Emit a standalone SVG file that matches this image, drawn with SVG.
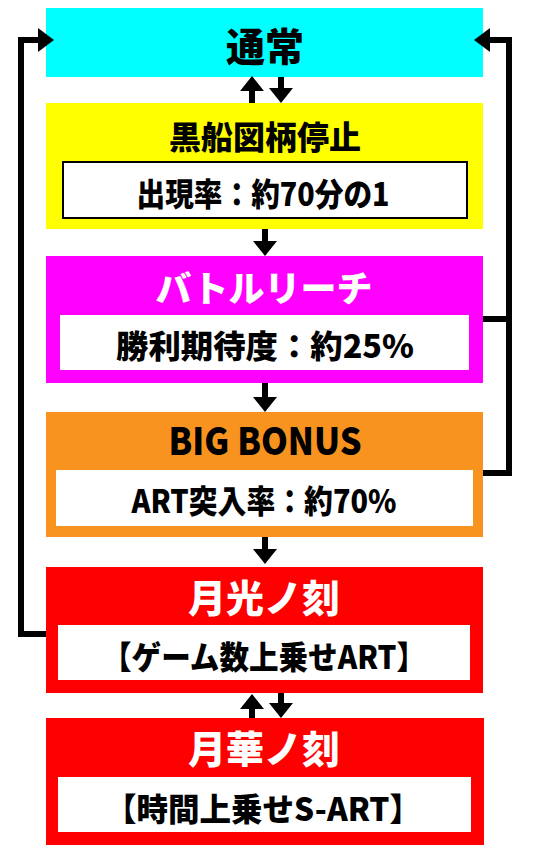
<svg xmlns="http://www.w3.org/2000/svg" width="534" height="853" viewBox="0 0 534 853">
<style>
.t{font-family:"Noto Sans CJK JP","Noto Sans",sans-serif;font-weight:900;text-anchor:middle}
.s{font-size:32px}
.w{fill:#fff}
.k{fill:#000}
.inner{fill:#fff}
.c{fill:none;stroke:#000;stroke-width:6;stroke-linejoin:miter}
</style>
<defs>
<marker id="ah" markerUnits="userSpaceOnUse" markerWidth="15" markerHeight="24" viewBox="0 0 15 24" refX="0" refY="12" orient="auto">
<path d="M0,0 L15,12 L0,24 Z" fill="#000"/>
</marker>
<marker id="ah2" markerUnits="userSpaceOnUse" markerWidth="16" markerHeight="24" viewBox="0 0 16 24" refX="0" refY="12" orient="auto">
<path d="M0,0 L16,12 L0,24 Z" fill="#000"/>
</marker>
</defs>
<rect width="534" height="853" fill="#fff"/>
<g id="tsujo">
<rect x="46" y="8" width="437" height="69" fill="#00FFFF"/>
<text class="t k" x="265" y="61" font-size="39">通常</text>
</g>
<g id="kurofune">
<rect x="46" y="103" width="437" height="126" fill="#FFFF00"/>
<text class="t k" x="265" y="149" font-size="32">黒船図柄停止</text>
<rect x="63" y="162" width="404" height="56" fill="#fff" stroke="#000" stroke-width="2"/>
<text class="t k s" x="263" y="206" textLength="253" lengthAdjust="spacingAndGlyphs">出現率：約70分の1</text>
</g>
<g id="battle">
<rect x="46" y="256" width="437" height="127" fill="#FF00FF"/>
<text class="t w" x="264" y="302" font-size="36">バトルリーチ</text>
<rect x="60" y="315" width="409" height="55" class="inner"/>
<text class="t k s" x="265" y="358" textLength="298" lengthAdjust="spacingAndGlyphs">勝利期待度：約25%</text>
</g>
<g id="bigbonus">
<rect x="46" y="412" width="437" height="125" fill="#F7931E"/>
<text class="t k" x="265" y="455" font-size="38" textLength="193" lengthAdjust="spacingAndGlyphs">BIG BONUS</text>
<rect x="56" y="470" width="417" height="56" class="inner"/>
<text class="t k s" x="264" y="513" textLength="265" lengthAdjust="spacingAndGlyphs">ART突入率：約70%</text>
</g>
<g id="gekko">
<rect x="46" y="567" width="437" height="126" fill="#FF0000"/>
<text class="t w" x="264" y="612" font-size="38">月光ノ刻</text>
<rect x="58" y="625" width="412" height="55" class="inner"/>
<text class="t k s" x="264" y="669" textLength="324" lengthAdjust="spacingAndGlyphs">【ゲーム数上乗せART】</text>
</g>
<g id="gekka">
<rect x="46" y="718" width="438" height="127" fill="#FF0000"/>
<text class="t w" x="264" y="763" font-size="38">月華ノ刻</text>
<rect x="58" y="777" width="413" height="55" class="inner"/>
<text class="t k s" x="263" y="821" textLength="316" lengthAdjust="spacingAndGlyphs">【時間上乗せS-ART】</text>
</g>
<g id="connectors">
<line class="c" x1="281" y1="77" x2="281" y2="88" marker-end="url(#ah)"/>
<line class="c" x1="252" y1="103" x2="252" y2="91" marker-end="url(#ah)"/>
<line class="c" x1="265" y1="229" x2="265" y2="241" marker-end="url(#ah)"/>
<line class="c" x1="265" y1="383" x2="265" y2="397" marker-end="url(#ah)"/>
<line class="c" x1="265" y1="537" x2="265" y2="549" marker-end="url(#ah)"/>
<line class="c" x1="281" y1="693" x2="281" y2="703" marker-end="url(#ah)"/>
<line class="c" x1="252" y1="718" x2="252" y2="709" marker-end="url(#ah)"/>
<polyline class="c" points="483,473 509,473 509,40 490,40" marker-end="url(#ah2)"/>
<line class="c" x1="483" y1="319" x2="509" y2="319"/>
<polyline class="c" points="46,634 21,634 21,40 38,40" marker-end="url(#ah2)"/>
</g>
</svg>
